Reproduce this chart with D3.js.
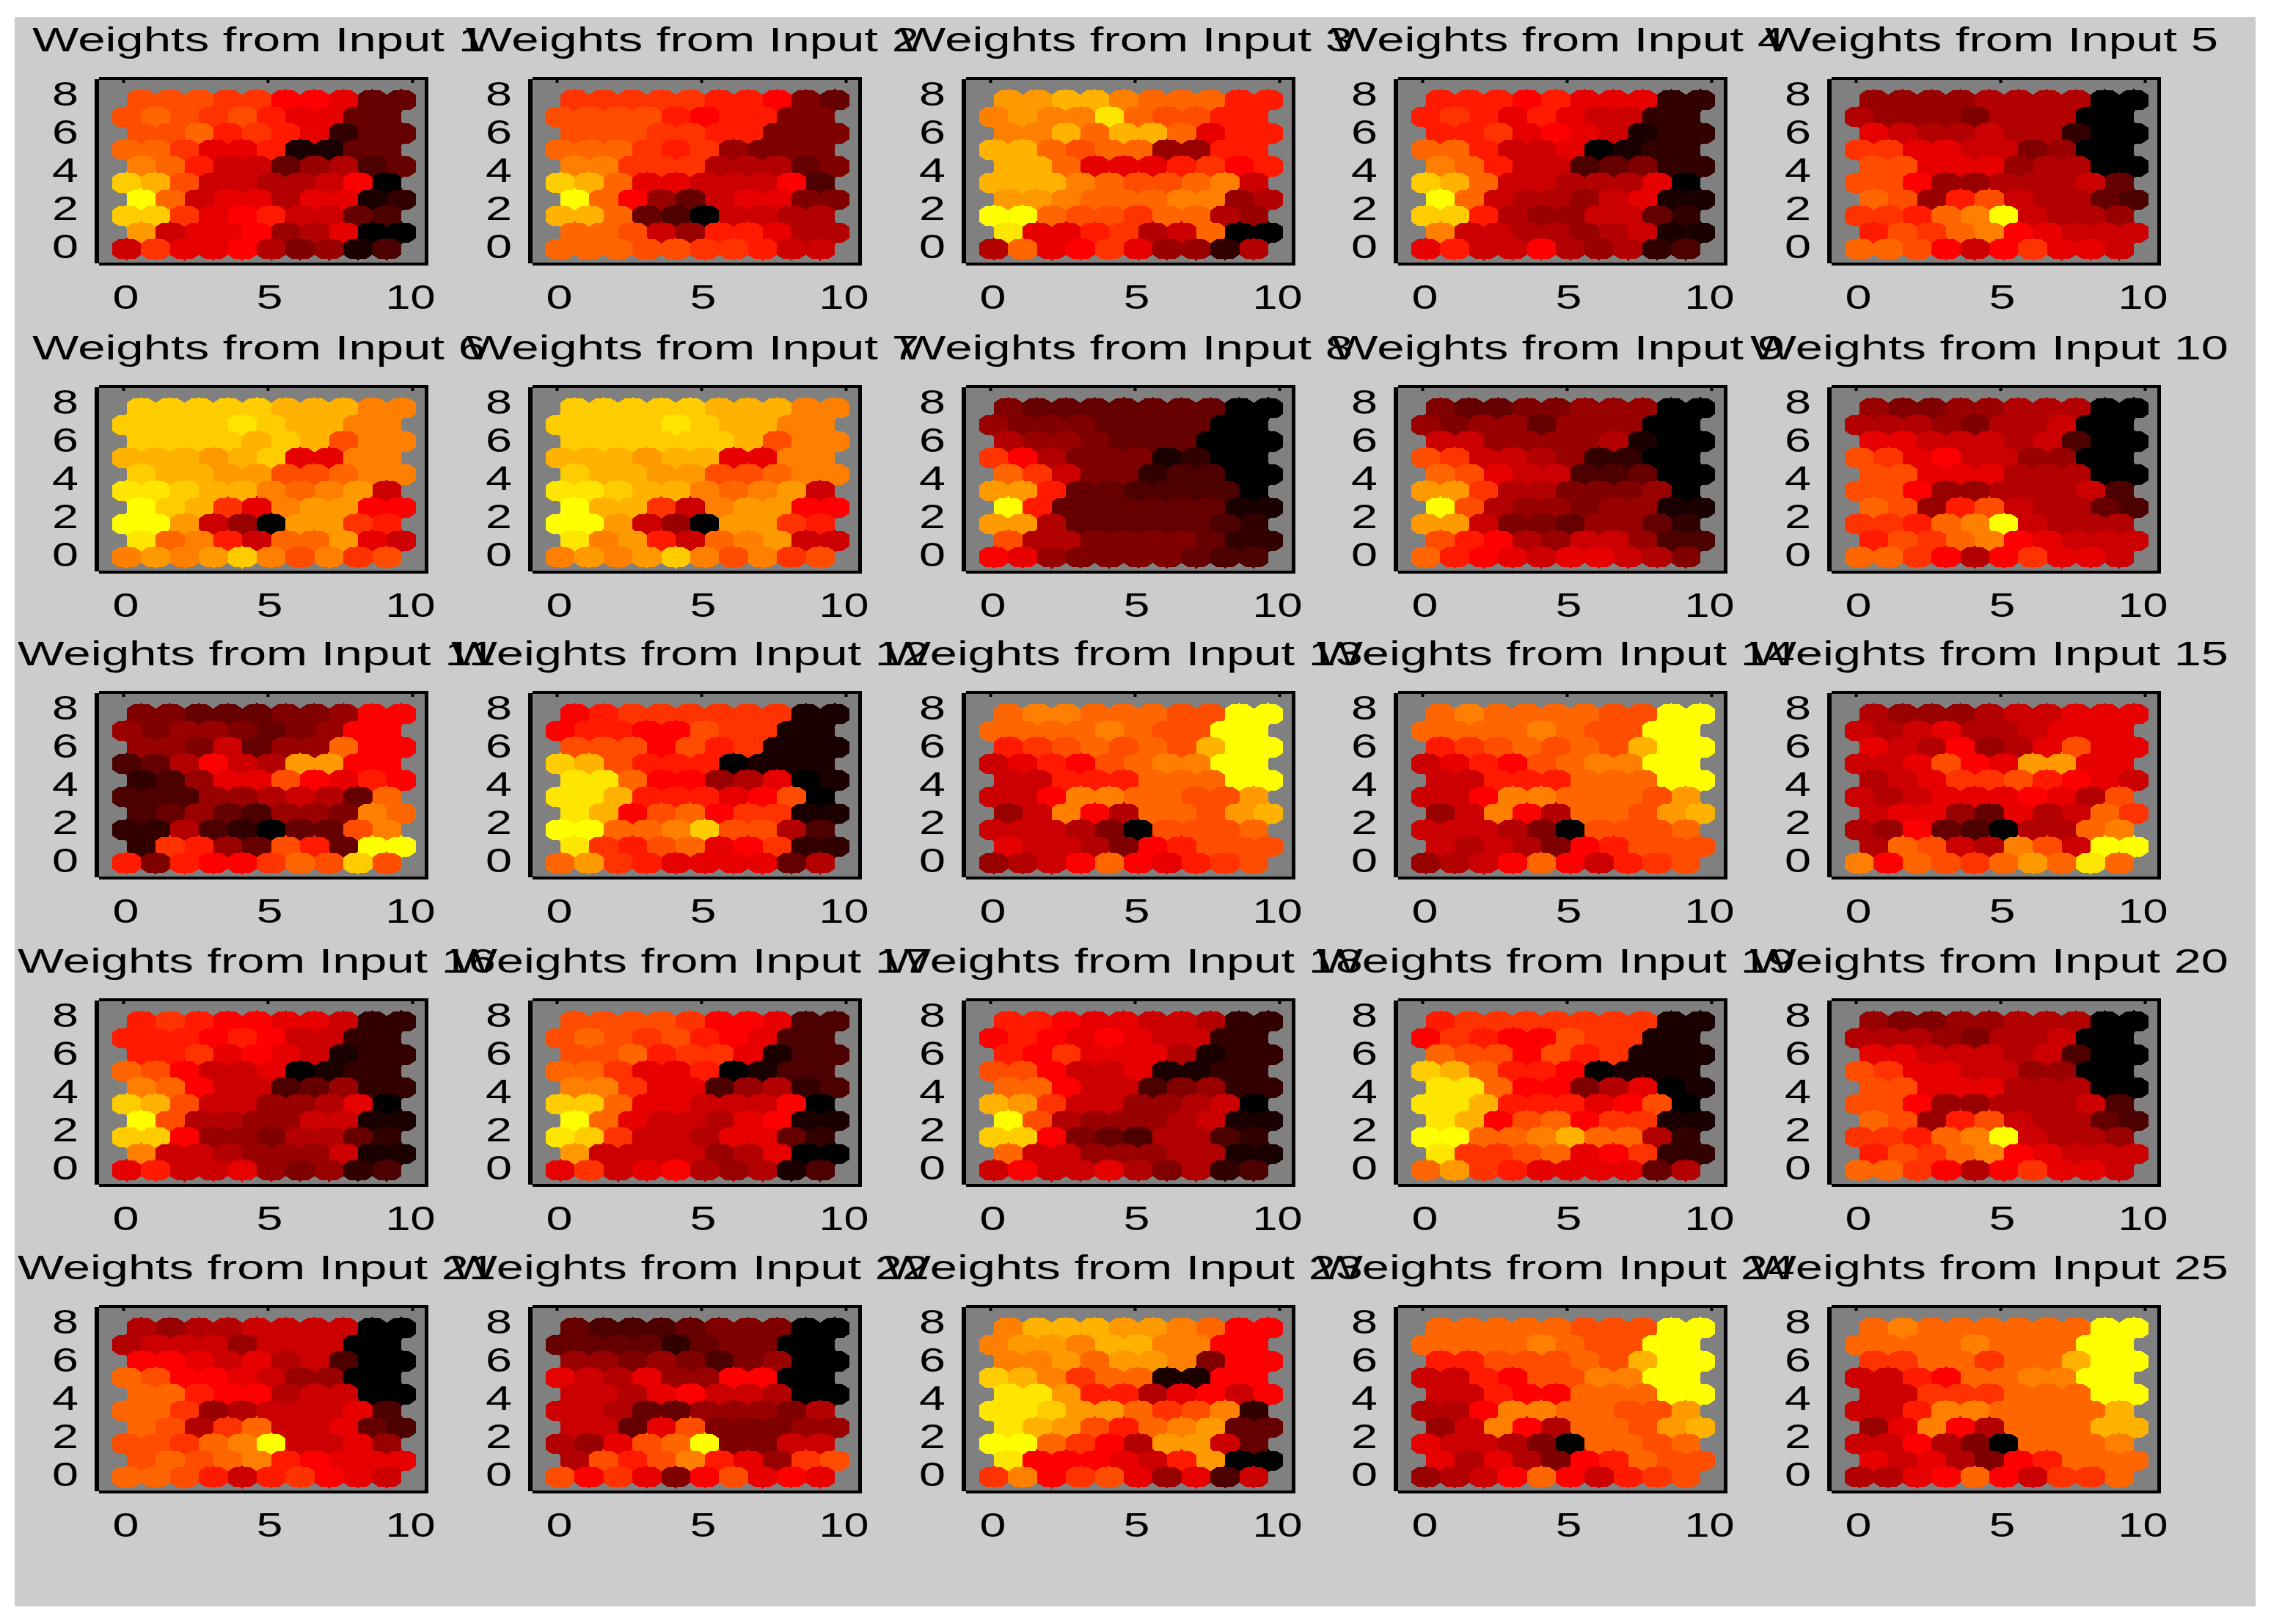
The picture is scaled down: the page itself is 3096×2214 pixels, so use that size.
<!DOCTYPE html>
<html lang="en">
<head>
<meta charset="UTF-8">
<title>Weights from Input</title>
<script src="https://d3js.org/d3.v7.min.js"></script>
<style>
  body { margin: 0; background: #fff; }
  text { font-family: "Liberation Sans", Arial, sans-serif; fill: #000; }
</style>
</head>
<body>
<script>
// weight planes, rows listed top to bottom, 0 = black, 10 = red, 20 = yellow
const input01 = [13,13,13,12,12,10,10,9,4,4, 13,14,13,12,13,11,9,9,4,4, 13,13,14,11,12,11,9,2,4,4, 14,14,12,9,9,11,1,1,4,4, 15,14,11,8,8,4,6,7,3,4, 18,17,13,8,8,7,7,8,10,0, 20,14,8,9,9,7,9,9,1,2, 18,18,12,9,10,11,8,8,4,3, 16,8,9,9,10,6,7,9,0,0, 8,12,9,9,10,7,5,6,1,3];
const input02 = [12,12,12,12,12,11,11,10,5,4, 13,13,13,13,11,10,11,11,5,5, 13,13,13,12,12,11,11,5,5,5, 14,14,14,12,11,12,6,5,5,5, 15,15,12,12,12,7,7,7,4,5, 18,17,14,9,9,8,8,8,10,3, 20,14,10,6,4,8,9,9,5,5, 17,17,14,4,3,0,8,8,7,7, 14,14,13,8,6,11,11,9,7,7, 14,14,14,13,13,12,12,11,8,8];
const input03 = [16,16,17,17,15,14,14,14,11,11, 15,16,15,15,19,14,13,13,11,11, 15,15,17,14,17,17,14,9,11,11, 17,17,14,13,14,14,6,6,11,11, 17,17,14,9,9,9,11,12,10,11, 17,17,17,15,14,13,13,14,15,8, 16,16,15,14,14,14,15,15,6,7, 20,20,14,13,13,12,14,14,7,6, 19,9,9,11,12,7,8,14,0,0, 7,14,9,10,12,9,6,6,2,7];
const input04 = [11,11,11,10,11,9,9,9,2,2, 11,12,11,9,11,9,8,8,2,2, 11,11,12,9,10,9,8,1,2,2, 14,14,11,8,8,9,0,1,2,2, 15,14,11,8,8,3,4,5,2,2, 18,17,14,8,8,7,7,7,9,0, 20,14,8,7,7,6,8,9,1,1, 18,18,11,7,6,6,8,8,4,2, 15,8,8,7,7,6,7,8,1,1, 9,11,8,8,10,7,6,7,2,3];
const input05 = [6,6,6,6,7,7,7,7,0,0, 7,6,6,6,5,7,7,7,0,0, 9,8,7,7,8,7,7,2,0,0, 12,12,9,9,8,8,5,6,0,0, 13,13,9,9,9,6,7,7,0,0, 13,13,10,6,6,7,7,7,8,4, 14,13,6,11,13,8,7,7,4,3, 12,12,11,14,15,20,8,7,7,6, 11,13,12,14,15,10,9,8,8,8, 14,14,13,10,8,10,12,9,9,8];
const input06 = [18,18,18,18,18,17,17,17,15,15, 18,18,18,18,19,18,17,17,15,15, 18,18,18,18,17,18,17,13,15,15, 17,17,17,16,17,18,9,9,15,15, 18,17,17,16,16,13,13,14,15,15, 19,19,18,17,17,15,14,15,16,8, 20,18,17,12,9,15,16,16,10,10, 20,20,16,8,6,0,16,16,12,11, 19,14,15,11,8,14,14,16,9,8, 15,16,15,16,18,15,13,15,12,13];
const input07 = [18,18,18,18,18,17,17,17,15,15, 18,18,18,18,19,18,17,17,15,15, 18,18,18,18,18,18,17,13,15,15, 17,17,17,16,17,17,9,9,15,15, 18,17,17,16,16,13,13,14,15,15, 19,19,18,17,17,15,14,15,16,8, 20,17,17,12,8,15,16,16,10,10, 20,20,16,8,6,0,16,16,12,11, 19,15,16,11,8,14,15,16,8,8, 15,16,15,16,18,15,13,15,12,13];
const input08 = [5,4,4,4,4,4,4,4,0,0, 6,5,5,5,4,4,4,4,0,0, 7,6,6,5,4,4,4,0,0,0, 12,10,7,5,5,5,1,2,0,0, 14,12,8,5,5,2,3,3,0,0, 16,16,11,4,4,3,3,3,3,0, 20,11,4,4,4,4,4,4,1,1, 16,16,7,4,4,4,4,4,3,2, 13,7,7,5,5,5,5,4,2,2, 10,9,6,5,5,5,5,4,3,3];
const input09 = [5,4,4,5,5,6,6,6,0,0, 6,5,6,6,4,6,6,6,0,0, 8,8,6,6,6,6,7,1,0,0, 13,12,8,8,7,6,2,2,0,0, 14,13,9,8,8,3,3,4,0,0, 16,16,12,7,7,5,5,5,6,0, 20,13,7,6,6,5,6,6,1,1, 16,16,8,5,5,4,6,6,4,2, 13,11,10,7,6,8,8,6,3,3, 14,11,10,9,8,9,9,8,7,5];
const input10 = [6,5,5,6,6,7,7,7,0,0, 7,7,7,6,5,7,7,8,0,0, 9,9,8,8,8,7,8,3,0,0, 13,12,9,10,8,8,6,6,0,0, 13,13,9,9,9,7,7,7,0,0, 13,13,10,6,6,7,7,7,8,3, 14,13,6,11,13,8,7,7,4,3, 12,12,11,14,15,20,8,7,7,7, 11,13,12,14,15,10,9,8,8,8, 14,14,12,10,7,10,12,9,9,8];
const input11 = [5,5,4,4,4,5,5,6,10,10, 6,5,6,6,5,4,5,6,10,10, 6,6,5,8,4,6,6,14,10,10, 3,4,7,10,8,7,16,16,10,10, 2,3,6,9,9,13,10,9,11,10, 3,3,3,6,6,7,8,7,4,14, 3,4,6,4,3,6,6,5,15,14, 2,2,7,3,2,0,4,4,13,15, 2,12,11,6,4,13,11,4,20,20, 11,5,11,10,10,12,14,13,18,13];
const input12 = [10,11,12,12,12,12,12,12,1,1, 10,11,11,10,10,13,12,12,1,1, 13,13,13,10,13,11,12,1,1,1, 18,17,13,11,11,11,0,1,1,1, 19,19,14,10,10,6,7,9,0,1, 19,19,17,11,11,11,9,10,13,0, 19,17,10,13,14,10,12,12,1,1, 20,20,14,14,15,18,13,13,7,3, 19,12,11,13,14,9,10,12,2,2, 14,16,12,11,9,9,9,9,4,7];
const input13 = [14,15,15,14,14,14,13,13,20,20, 14,14,14,14,15,14,13,13,20,20, 11,12,13,14,13,14,13,17,20,20, 8,9,11,10,13,14,15,15,20,20, 8,8,11,11,11,14,14,14,20,20, 8,8,10,15,15,14,14,13,13,16, 6,8,15,10,7,14,14,13,16,17, 8,8,8,7,5,0,13,13,13,14, 9,8,8,7,5,10,11,13,13,13, 6,7,8,10,14,10,9,11,12,13];
const input14 = [14,15,14,14,14,14,13,13,20,20, 14,14,14,14,15,14,13,13,20,20, 11,12,13,14,13,14,13,17,20,20, 8,9,11,10,13,14,15,15,20,20, 8,8,11,11,11,14,14,14,20,20, 8,8,10,15,15,14,14,14,13,16, 6,8,15,10,7,14,14,13,16,17, 8,8,8,7,5,0,13,13,13,14, 8,7,8,7,5,10,11,13,13,13, 6,7,8,10,14,10,8,11,12,13];
const input15 = [7,6,6,6,7,8,8,9,9,9, 8,7,8,9,7,7,8,9,9,9, 9,8,7,10,6,7,9,13,9,9, 8,8,9,13,10,9,16,16,9,9, 7,8,9,12,12,13,11,10,9,8, 8,7,8,9,9,9,10,9,7,13, 8,9,9,6,4,9,7,8,14,12, 7,6,10,4,3,0,7,7,14,15, 7,14,13,8,7,15,13,8,20,20, 15,10,14,13,12,14,16,14,19,14];
const input16 = [11,12,11,10,10,9,9,8,2,2, 11,11,11,10,11,10,8,8,2,2, 11,11,12,9,10,9,8,1,2,2, 14,13,10,8,8,9,0,1,2,2, 15,14,10,8,8,3,4,6,2,2, 18,17,13,8,8,6,6,7,9,0, 20,13,7,7,6,6,8,8,1,1, 18,18,10,6,6,5,7,7,4,2, 15,8,8,7,6,6,6,8,1,1, 9,11,8,8,9,6,5,6,2,3];
const input17 = [13,13,13,13,12,10,10,9,3,3, 13,14,13,12,13,11,10,9,3,3, 13,13,14,11,12,12,9,1,3,3, 14,14,12,9,9,11,0,1,3,3, 15,15,12,9,9,3,6,7,2,3, 18,18,14,9,9,8,8,8,10,0, 20,14,9,8,8,7,9,10,1,1, 19,18,12,8,8,7,9,9,4,2, 16,8,8,8,8,6,7,9,0,0, 9,12,8,9,10,7,6,7,1,3];
const input18 = [11,11,10,9,9,8,8,7,2,2, 10,11,10,9,10,9,8,8,2,2, 11,10,12,9,9,9,7,1,2,2, 13,13,10,8,8,9,1,1,2,2, 14,14,10,8,8,3,5,6,2,2, 17,16,12,8,8,6,6,7,8,0, 20,13,7,6,6,6,7,8,1,1, 18,18,10,5,4,3,7,7,3,2, 14,8,8,6,6,6,7,7,1,1, 8,10,8,8,9,7,5,7,2,3];
const input19 = [11,12,12,12,12,12,12,12,1,1, 10,12,11,10,10,13,12,12,1,1, 14,13,13,10,13,11,12,1,1,1, 18,17,14,11,11,10,0,1,1,1, 19,19,14,10,10,5,7,9,0,1, 19,19,17,11,11,11,9,10,13,0, 19,17,10,13,14,10,12,12,1,1, 20,20,14,14,15,17,14,14,7,2, 19,12,12,13,14,9,10,12,2,2, 14,16,12,11,9,9,9,9,4,7];
const input20 = [6,5,5,6,6,7,7,7,0,0, 7,7,7,6,5,7,7,8,0,0, 9,9,8,8,8,7,8,3,0,0, 13,12,9,9,8,8,6,6,0,0, 13,13,9,9,9,7,7,7,0,0, 13,13,10,6,6,7,7,7,8,3, 14,13,6,11,13,8,7,7,4,3, 12,12,11,14,15,20,8,7,7,6, 11,13,12,14,15,10,9,8,8,8, 14,14,12,10,7,10,12,9,9,8];
const input21 = [7,6,7,7,8,8,8,8,0,0, 7,8,8,8,6,8,8,8,0,0, 10,10,9,8,9,7,8,3,0,0, 14,13,10,10,9,8,6,6,0,0, 14,14,11,10,10,7,8,8,0,0, 14,14,12,6,7,8,8,8,9,3, 14,13,7,12,14,8,8,9,4,3, 13,13,12,14,15,20,8,8,9,6, 13,14,13,14,15,11,10,9,9,9, 14,14,13,11,8,11,12,10,9,8];
const input22 = [4,3,3,3,4,5,5,5,0,0, 4,4,4,4,2,4,5,5,0,0, 6,6,5,6,5,3,5,6,0,0, 9,8,7,9,6,6,10,10,0,0, 8,8,7,9,10,8,8,7,0,0, 8,8,7,4,4,6,6,6,5,7, 8,8,4,9,13,5,5,5,6,6, 7,6,9,13,14,20,5,5,8,8, 7,13,11,13,15,11,9,6,12,13, 13,10,12,9,5,10,13,9,10,9];
const input23 = [15,17,17,17,16,16,15,14,10,10, 15,16,16,15,17,17,15,15,10,10, 15,15,16,14,16,16,15,5,10,10, 18,17,15,12,14,14,1,1,10,10, 19,19,16,11,11,7,9,10,8,10, 19,19,18,16,16,14,12,13,15,2, 19,17,16,13,11,14,15,16,4,4, 20,20,14,12,10,7,16,16,8,4, 19,10,10,10,9,8,11,16,0,0, 12,15,10,12,13,9,6,9,3,8];
const input24 = [14,14,14,14,14,13,13,13,20,20, 14,14,14,14,15,14,13,13,20,20, 11,11,13,13,13,14,13,17,20,20, 8,8,11,10,13,13,15,15,20,20, 8,8,11,10,10,14,14,14,20,20, 7,7,10,15,15,14,14,13,13,16, 6,8,15,10,7,14,14,13,16,17, 9,8,8,7,5,0,14,14,13,14, 9,7,9,7,5,10,11,14,13,13, 6,7,8,10,14,10,8,11,12,13];
const input25 = [14,15,14,14,14,14,14,14,20,20, 14,14,14,14,15,14,14,14,20,20, 12,12,14,14,12,14,14,17,20,20, 8,8,11,10,14,14,15,15,20,20, 8,8,12,12,12,14,14,14,20,20, 8,8,11,15,15,14,14,14,14,17, 6,9,15,10,7,14,14,14,17,17, 8,8,10,7,5,0,14,14,14,15, 9,8,9,7,5,10,11,14,14,14, 7,7,9,10,14,10,8,12,12,14];

const inputs = [input01, input02, input03, input04, input05, input06, input07, input08, input09, input10,
                input11, input12, input13, input14, input15, input16, input17, input18, input19, input20,
                input21, input22, input23, input24, input25];
const xTicks = [0, 5, 10];
const yTicks = [0, 2, 4, 6, 8];

const panelLefts = [129, 720, 1311, 1900, 2491];
const panelTops = [105, 525, 942, 1361, 1779];
const panelW = 455, panelH = 257;

const svg = d3.select("body").append("svg").attr("width", 3096).attr("height", 2214);

svg.append("rect").attr("x", 20).attr("y", 23).attr("width", 3055).attr("height", 2167).attr("fill", "#cccccc");

const color = d3.scaleLinear().domain([0, 10, 20]).range(["#000000", "#ff0000", "#ffff00"]);
const x = d3.scaleLinear().domain([0, 10]).range([39, 433]);
const y = d3.scaleLinear().domain([0, 8]).range([232, 24]);

// node outline in axis units: flat roofed hexagon with a small spike, as the low-res original shows it
const hexShape = [[0, 0.62], [0.06, 0.52], [0.28, 0.52], [0.5, 0.3], [0.5, -0.3], [0.28, -0.52], [0.06, -0.52],
                  [0, -0.62], [-0.06, -0.52], [-0.28, -0.52], [-0.5, -0.3], [-0.5, 0.3], [-0.28, 0.52], [-0.06, 0.52]];
const hexLine = d3.line().x(d => x(d[0])).y(d => y(d[1])).curve(d3.curveLinearClosed);

function nodes(values) {
  return values.map(function(v, i) {
    const row = 9 - Math.floor(i / 10);
    const col = i % 10;
    return { v: v, cx: col + (row % 2) * 0.5 + 0.12, cy: row * Math.sqrt(3) / 2 - 0.1 };
  });
}

inputs.forEach(function(values, n) {
  const g = svg.append("g")
    .attr("transform", "translate(" + panelLefts[n % 5] + "," + panelTops[Math.floor(n / 5)] + ")");

  g.append("rect").attr("x", 5).attr("y", 3).attr("width", panelW - 10).attr("height", panelH - 6).attr("fill", "#808080");

  g.selectAll("path.hex").data(nodes(values)).enter().append("path")
    .attr("class", "hex")
    .attr("d", d => hexLine(hexShape.map(p => [d.cx + p[0], d.cy + p[1]])))
    .attr("fill", d => color(d.v))
    .attr("shape-rendering", "crispEdges");

  // frame
  g.append("rect").attr("x", 0).attr("y", 3).attr("width", 6).attr("height", panelH - 6);
  g.append("rect").attr("x", 6).attr("y", 0).attr("width", panelW - 6).attr("height", 4);
  g.append("rect").attr("x", 6).attr("y", panelH - 4).attr("width", panelW - 6).attr("height", 4);
  g.append("rect").attr("x", panelW - 5).attr("y", 0).attr("width", 5).attr("height", panelH);

  // short ticks under the top edge
  const topAxis = g.append("g").attr("transform", "translate(0,3)")
    .call(d3.axisTop(x).tickValues(xTicks).tickSize(-5).tickFormat(""));
  topAxis.select(".domain").remove();
  topAxis.selectAll("line").attr("stroke", "#000").attr("stroke-width", 4);

  const bottomAxis = g.append("g").attr("transform", "translate(0," + (panelH - 1) + ")")
    .call(d3.axisBottom(x).tickValues(xTicks).tickSize(0).tickPadding(27));
  bottomAxis.select(".domain").remove();
  bottomAxis.selectAll("text")
    .attr("font-size", 46).attr("font-family", null)
    .attr("dx", d => d === 0 ? 3 : d === 10 ? -3 : 2)
    .attr("textLength", d => d === 10 ? 68 : 36).attr("lengthAdjust", "spacingAndGlyphs");

  const leftAxis = g.append("g")
    .call(d3.axisLeft(y).tickValues(yTicks).tickSize(0).tickPadding(22));
  leftAxis.select(".domain").remove();
  leftAxis.selectAll("text")
    .attr("font-size", 46).attr("font-family", null)
    .attr("textLength", 36).attr("lengthAdjust", "spacingAndGlyphs");

  const twoDigit = n + 1 >= 10;
  g.append("text")
    .attr("x", twoDigit ? -105 : -85)
    .attr("y", -35)
    .attr("font-size", 46)
    .attr("textLength", twoDigit ? 652 : 618)
    .attr("lengthAdjust", "spacingAndGlyphs")
    .text("Weights from Input " + (n + 1));
});
</script>
</body>
</html>
